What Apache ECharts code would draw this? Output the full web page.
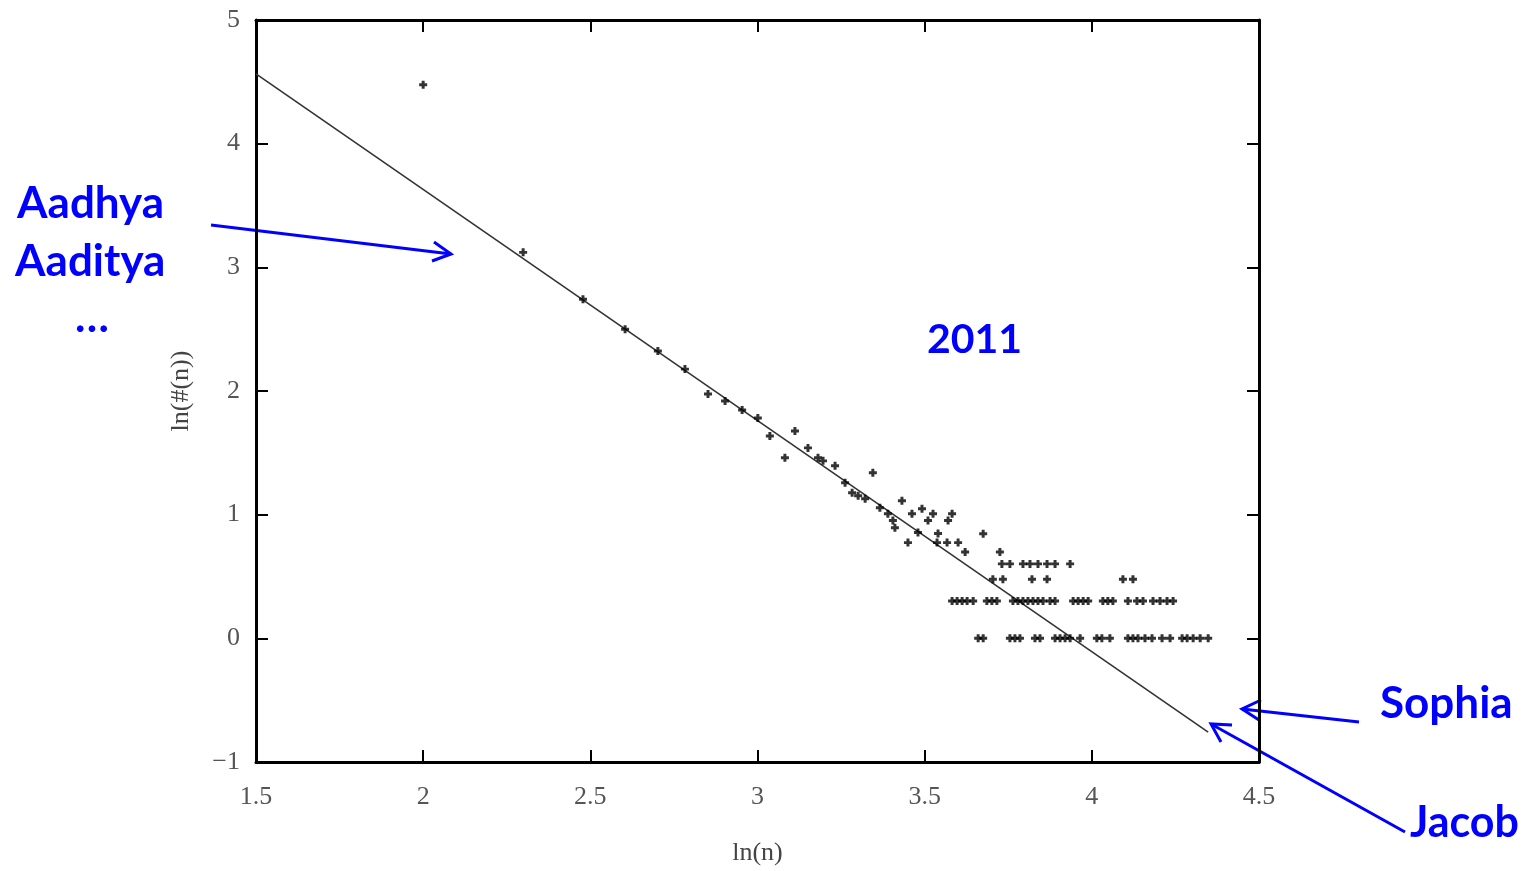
<!DOCTYPE html>
<html>
<head>
<meta charset="utf-8">
<script src="https://cdn.jsdelivr.net/npm/echarts@6/dist/echarts.min.js"></script>
<style>
html,body{margin:0;padding:0;background:#fff;}
#c{width:1531px;height:871px;}
</style>
</head>
<body>
<div id="c"></div>
<script>
// x = ln(n), y = ln(#(n))
const scatterX = [2.0, 2.299, 2.478, 2.604, 2.702, 2.783, 2.852, 2.903, 2.954, 3.001, 3.037, 3.112, 3.082, 3.151, 3.181, 3.196, 3.232, 3.262, 3.283, 3.301, 3.322, 3.345, 3.366, 3.390, 3.405, 3.411, 3.432, 3.462, 3.492, 3.510, 3.525, 3.570, 3.582, 3.450, 3.480, 3.540, 3.537, 3.567, 3.600, 3.621, 3.675, 3.725];
const scatterY = [4.476, 3.121, 2.742, 2.5, 2.323, 2.177, 1.976, 1.919, 1.847, 1.782, 1.637, 1.677, 1.460, 1.540, 1.460, 1.435, 1.395, 1.258, 1.177, 1.153, 1.129, 1.339, 1.056, 1.008, 0.952, 0.895, 1.113, 1.008, 1.048, 0.952, 1.008, 0.952, 1.008, 0.774, 0.855, 0.847, 0.774, 0.774, 0.774, 0.699, 0.845, 0.699];
// rows of equal y
const row0X = [3.660, 3.675, 3.755, 3.770, 3.785, 3.830, 3.845, 3.890, 3.905, 3.920, 3.935, 3.965, 4.015, 4.030, 4.054, 4.108, 4.123, 4.138, 4.159, 4.180, 4.210, 4.234, 4.270, 4.285, 4.303, 4.324, 4.348];
const row301X = [3.582, 3.597, 3.612, 3.627, 3.645, 3.686, 3.701, 3.716, 3.764, 3.779, 3.794, 3.809, 3.824, 3.839, 3.854, 3.875, 3.890, 3.944, 3.959, 3.974, 3.989, 4.033, 4.048, 4.063, 4.108, 4.135, 4.153, 4.183, 4.204, 4.225, 4.243];
const row477X = [3.704, 3.734, 3.821, 3.866, 4.093, 4.123];
const row602X = [3.731, 3.755, 3.794, 3.815, 3.839, 3.866, 3.890, 3.935];
const rowYs = [0, 0.301, 0.477, 0.602];
// fitted line end points
const fitX = [1.5, 4.348];
const fitY = [4.565, -0.758];

const xTicks = ['1.5','2','2.5','3','3.5','4','4.5'];

const pts = [];
scatterX.forEach((x,i)=>pts.push([x, scatterY[i]]));
[row0X,row301X,row477X,row602X].forEach((arr,k)=>arr.forEach(x=>pts.push([x,rowYs[k]])));
const fit = fitX.map((x,i)=>[x, fitY[i]]);

const chart = echarts.init(document.getElementById('c'));
const serif = '"Liberation Serif","DejaVu Serif",serif';
const plus = 'path://M-1.3,-3.5H1.3V-1.3H3.5V1.3H1.3V3.5H-1.3V1.3H-3.5V-1.3H-1.3Z';
const blueFont = (s)=>'bold '+s+'px Lato, "Open Sans", sans-serif';
const axisBase = {
  type:'value', scale:false,
  axisLine:{show:true, onZero:false, lineStyle:{color:'#000', width:3}},
  axisTick:{show:true, inside:true, length:12, lineStyle:{color:'#000', width:2}},
  splitLine:{show:false}
};
chart.setOption({
  animation:false,
  backgroundColor:'#fff',
  grid:{left:256, right:272, top:20, bottom:109, show:false},
  xAxis:[
    Object.assign({}, axisBase, {min:1.5, max:4.5, interval:0.5, position:'bottom',
      name:'ln(n)', nameLocation:'middle', nameGap:78,
      nameTextStyle:{fontFamily:serif, fontSize:26, color:'#444'},
      axisLabel:{margin:22, fontFamily:serif, fontSize:26, color:'#555',
        formatter:(v)=>xTicks[Math.round((v-1.5)/0.5)]}}),
    Object.assign({}, axisBase, {min:1.5, max:4.5, interval:0.5, position:'top', axisLabel:{show:false}})
  ],
  yAxis:[
    Object.assign({}, axisBase, {min:-1, max:5, interval:1, position:'left',
      name:'ln(#(n))', nameLocation:'middle', nameGap:62,
      nameTextStyle:{fontFamily:serif, fontSize:26, color:'#444'},
      axisLabel:{margin:16, fontFamily:serif, fontSize:26, color:'#555',
        formatter:(v)=> v<0 ? '\u2212'+Math.abs(v) : String(v)}}),
    Object.assign({}, axisBase, {min:-1, max:5, interval:1, position:'right', axisLabel:{show:false}})
  ],
  series:[
    {type:'line', data:fit, symbol:'none', silent:true,
      lineStyle:{color:'#333', width:1.6}, z:2},
    {type:'scatter', data:pts, symbol:plus, symbolSize:8,
      itemStyle:{color:'#000'}, z:3}
  ],
  graphic:[
    {type:'text', x:17, y:204, style:{text:'Aadhya', font:blueFont(44), fill:'#0000ff', verticalAlign:'middle'}},
    {type:'text', x:15, y:262, style:{text:'Aaditya', font:blueFont(44), fill:'#0000ff', verticalAlign:'middle'}},
    {type:'text', x:75, y:318, style:{text:'\u2026', font:blueFont(44), fill:'#0000ff', verticalAlign:'middle'}},
    {type:'text', x:927, y:340, style:{text:'2011', font:blueFont(41), fill:'#0000ff', verticalAlign:'middle'}},
    {type:'text', x:1380, y:704, style:{text:'Sophia', font:blueFont(44), fill:'#0000ff', verticalAlign:'middle'}},
    {type:'text', x:1410, y:823, style:{text:'Jacob', font:blueFont(43), fill:'#0000ff', verticalAlign:'middle'}},
    // arrows
    {type:'line', shape:{x1:211,y1:225,x2:451,y2:254}, style:{stroke:'#0000ff', lineWidth:3}},
    {type:'polyline', shape:{points:[[434,242],[451,254],[432,261]]}, style:{stroke:'#0000ff', lineWidth:3, fill:null}},
    {type:'line', shape:{x1:1359,y1:722,x2:1242,y2:709}, style:{stroke:'#0000ff', lineWidth:3}},
    {type:'polyline', shape:{points:[[1261,700],[1242,709],[1259,720]]}, style:{stroke:'#0000ff', lineWidth:3, fill:null}},
    {type:'line', shape:{x1:1405,y1:832,x2:1211,y2:724}, style:{stroke:'#0000ff', lineWidth:3}},
    {type:'polyline', shape:{points:[[1232,725],[1211,724],[1221,742]]}, style:{stroke:'#0000ff', lineWidth:3, fill:null}}
  ]
});
</script>
</body>
</html>
